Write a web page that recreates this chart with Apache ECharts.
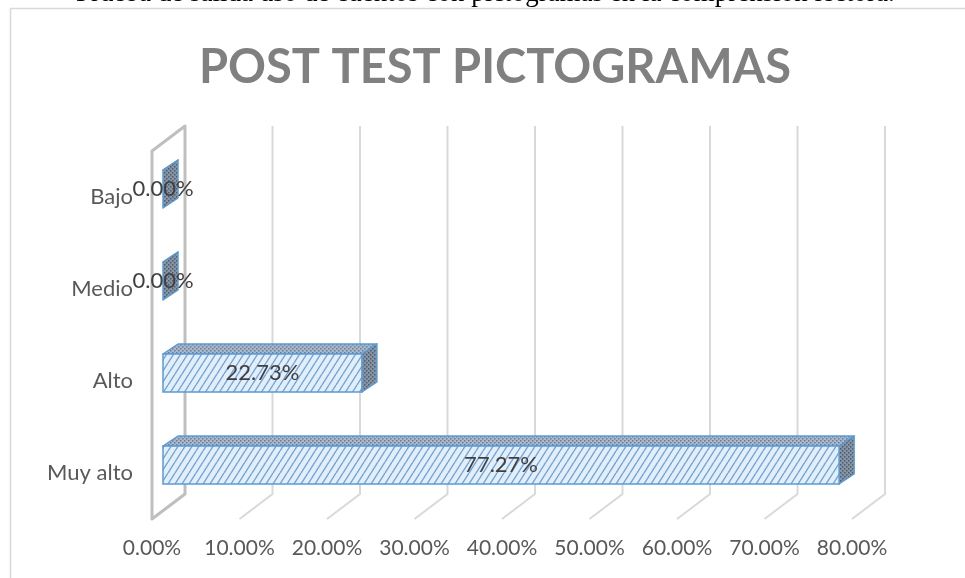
<!DOCTYPE html>
<html>
<head>
<meta charset="utf-8">
<title>POST TEST PICTOGRAMAS</title>
<script src="https://cdn.jsdelivr.net/npm/echarts@6/dist/echarts.min.js"></script>
<style>
  html, body { margin: 0; padding: 0; background: #fff; }
  #chart { width: 965px; height: 578px; }
</style>
</head>
<body>
<div id="chart"></div>
<script>
// datos
const categories = ['Muy alto', 'Alto', 'Medio', 'Bajo']
const values = [77.27, 22.73, 0, 0]
const xTicks = [0, 10, 20, 30, 40, 50, 60, 70, 80]

// desplazamientos (px) para simular la profundidad 3D
const WALL = [33, -25]      // piso frontal -> pared del fondo
const BAR_FRONT = [11, -8]  // piso frontal -> cara frontal de la barra
const BAR_DEPTH = [15, -10] // profundidad de la barra
const BAR_H = 38
const BLUE = '#5b9bd5'

// patrones de relleno
const makeHatch = () => {
  const w = 7, h = 11
  const c = document.createElement('canvas')
  c.width = w; c.height = h
  const g = c.getContext('2d')
  g.fillStyle = '#e4eef9'
  g.fillRect(0, 0, w, h)
  g.strokeStyle = '#6fa6dc'
  g.lineWidth = 1.4
  g.beginPath()
  for (let k = -1; k <= 1; k++) {
    g.moveTo(k * w, h)
    g.lineTo(k * w + w, 0)
  }
  g.stroke()
  return { image: c, repeat: 'repeat' }
}
const makeDots = (base, dot) => {
  const c = document.createElement('canvas')
  c.width = 4; c.height = 4
  const g = c.getContext('2d')
  g.fillStyle = base
  g.fillRect(0, 0, 4, 4)
  g.fillStyle = dot
  g.fillRect(0, 0, 1.5, 1.5)
  g.fillRect(2, 2, 1.5, 1.5)
  return { image: c, repeat: 'repeat' }
}
const hatchFill = makeHatch()
const topFill = makeDots('#a9b8cb', '#6b7d93')
const sideFill = makeDots('#8794a5', '#4d5a6b')

const chart = echarts.init(document.getElementById('chart'))

// paredes, piso y lineas de division
const renderGrid = (params, api) => {
  const v = api.value(0)
  const cs = params.coordSys
  const x = api.coord([v, 0])[0]
  const top = cs.y, bottom = cs.y + cs.height
  const bx = x + WALL[0], dy = WALL[1]
  if (v === 0) {
    return {
      type: 'polygon',
      shape: { points: [[bx, top + dy], [bx, bottom + dy], [x, bottom], [x, top]] },
      style: { fill: 'none', stroke: '#bfbfbf', lineWidth: 3, lineJoin: 'round' }
    }
  }
  return {
    type: 'polyline',
    shape: { points: [[bx, top + dy], [bx, bottom + dy], [x, bottom]] },
    style: { fill: 'none', stroke: '#d9d9d9', lineWidth: 2 }
  }
}

// barras 3D
const renderBar = (params, api) => {
  const v = api.value(0), ci = api.value(1)
  const p0 = api.coord([0, ci]), p1 = api.coord([v, ci])
  const x0 = p0[0] + BAR_FRONT[0], x1 = p1[0] + BAR_FRONT[0]
  const yc = p0[1] + BAR_FRONT[1]
  const yt = yc - BAR_H / 2, yb = yc + BAR_H / 2
  const dx = BAR_DEPTH[0], dy = BAR_DEPTH[1]
  const children = [
    {
      type: 'polygon',
      shape: { points: [[x0, yt], [x1, yt], [x1 + dx, yt + dy], [x0 + dx, yt + dy]] },
      style: { fill: topFill, stroke: BLUE, lineWidth: 1.5, lineJoin: 'round' }
    },
    {
      type: 'polygon',
      shape: { points: [[x1, yt], [x1 + dx, yt + dy], [x1 + dx, yb + dy], [x1, yb]] },
      style: { fill: sideFill, stroke: BLUE, lineWidth: 1.5, lineJoin: 'round' }
    }
  ]
  if (x1 - x0 > 1) {
    children.push({
      type: 'rect',
      shape: { x: x0, y: yt, width: x1 - x0, height: BAR_H },
      style: { fill: hatchFill, stroke: BLUE, lineWidth: 1.5 }
    })
  }
  children.push({
    type: 'text',
    style: {
      text: v.toFixed(2) + '%',
      x: (x0 + x1) / 2, y: yc,
      align: 'center', verticalAlign: 'middle',
      fill: '#404040', font: '22px Lato'
    }
  })
  return { type: 'group', children }
}

const option = {
  backgroundColor: '#fff',
  animation: false,
  title: {
    text: 'POST TEST PICTOGRAMAS',
    left: 490, top: 39, textAlign: 'center',
    textStyle: { color: '#808080', fontFamily: 'Lato', fontWeight: 'bold', fontSize: 47 }
  },
  graphic: [
    {
      type: 'rect', z: -10, silent: true,
      shape: { x: 10.5, y: 8.5, width: 1000, height: 1000 },
      style: { fill: 'none', stroke: '#d9d9d9', lineWidth: 1.5 }
    },
    {
      type: 'text', silent: true,
      style: {
        text: 'Prueba de salida uso de cuentos con pictogramas en la comprensión lectora.',
        x: 76, y: -6, verticalAlign: 'middle',
        fill: '#000', font: '27px "Liberation Serif"'
      }
    }
  ],
  grid: { left: 152, top: 151, width: 700, height: 368, containLabel: false, outerBoundsMode: 'none' },
  xAxis: {
    type: 'value', min: 0, max: 80, interval: 10,
    axisLine: { show: false }, axisTick: { show: false }, splitLine: { show: false },
    axisLabel: {
      margin: 19, color: '#595959', fontFamily: 'Lato', fontSize: 21,
      formatter: (v) => v.toFixed(2) + '%'
    }
  },
  yAxis: {
    type: 'category', data: categories,
    axisLine: { show: false }, axisTick: { show: false }, splitLine: { show: false },
    axisLabel: { margin: 19, color: '#595959', fontFamily: 'Lato', fontSize: 22 }
  },
  series: [
    {
      type: 'custom', name: 'grid', silent: true, z: 1,
      renderItem: renderGrid,
      encode: { x: 0, y: 1 },
      data: xTicks.map((t) => [t, 0])
    },
    {
      type: 'custom', name: 'Post test', silent: true, z: 2,
      renderItem: renderBar,
      encode: { x: 0, y: 1 },
      data: values.map((v, i) => [v, i])
    }
  ]
}

chart.setOption(option)
</script>
</body>
</html>
